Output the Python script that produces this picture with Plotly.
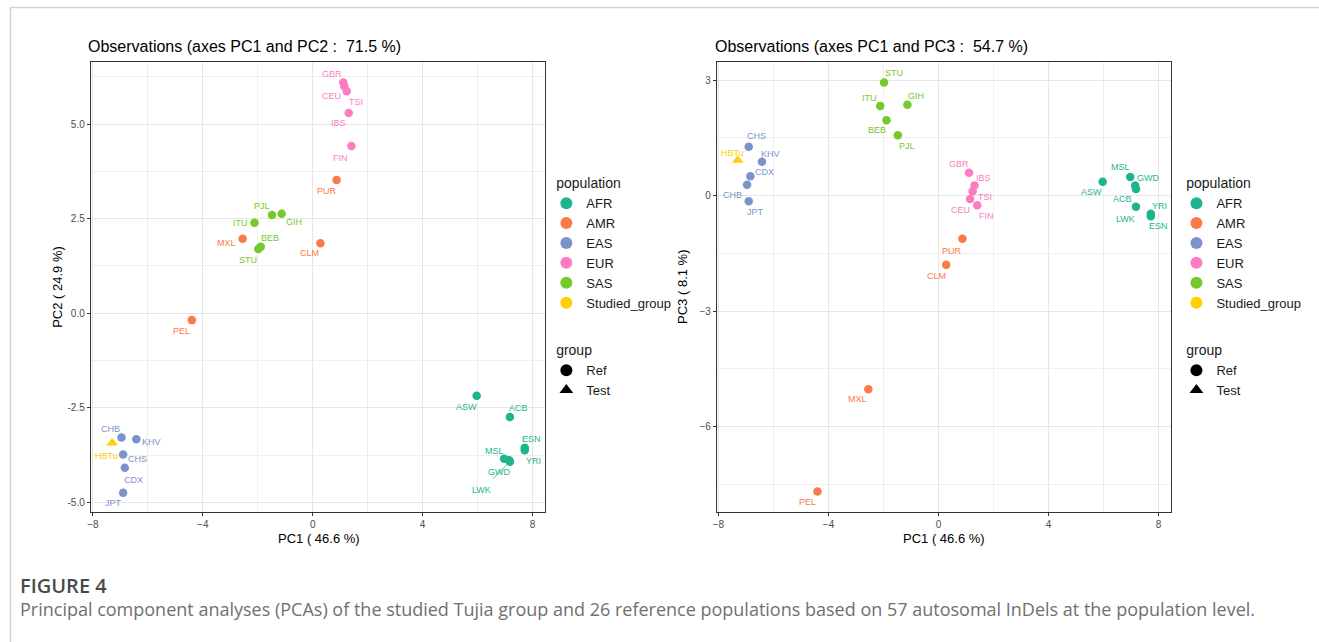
import plotly.graph_objects as go

W, H = 1319, 642

# ---------------- data ----------------
populations = ["ACB", "ASW", "ESN", "GWD", "LWK", "MSL", "YRI",
               "CLM", "MXL", "PEL", "PUR",
               "CDX", "CHB", "CHS", "JPT", "KHV",
               "CEU", "FIN", "GBR", "IBS", "TSI",
               "BEB", "GIH", "ITU", "PJL", "STU",
               "HBTu"]
superpop = ["AFR"] * 7 + ["AMR"] * 4 + ["EAS"] * 5 + ["EUR"] * 5 + ["SAS"] * 5 + ["Studied_group"]
group = ["Ref"] * 26 + ["Test"]
pc1 = [7.18, 5.97, 7.72, 7.15, 7.18, 6.97, 7.72,
       0.28, -2.55, -4.40, 0.87,
       -6.84, -6.96, -6.90, -6.90, -6.42,
       1.15, 1.41, 1.11, 1.31, 1.24,
       -1.89, -1.13, -2.12, -1.48, -1.98,
       -7.30]
pc2 = [-2.74, -2.18, -3.55, -3.88, -3.92, -3.84, -3.62,
       1.85, 1.97, -0.18, 3.52,
       -4.08, -3.28, -3.73, -4.74, -3.33,
       6.00, 4.42, 6.10, 5.29, 5.87,
       1.76, 2.63, 2.39, 2.60, 1.70,
       -3.43]
pc3 = [0.17, 0.36, -0.54, 0.26, -0.29, 0.48, -0.47,
       -1.80, -5.03, -7.69, -1.12,
       0.50, 0.28, 1.27, -0.15, 0.88,
       -0.09, -0.25, 0.59, 0.26, 0.11,
       1.96, 2.36, 2.33, 1.57, 2.94,
       0.92]
pop_levels = ["AFR", "AMR", "EAS", "EUR", "SAS", "Studied_group"]
group_levels = ["Ref", "Test"]

title_left = "Observations (axes PC1 and PC2 :\u00a0 71.5 %)"
title_right = "Observations (axes PC1 and PC3 :\u00a0 54.7 %)"
xlab = "PC1 ( 46.6 %)"
ylab_left = "PC2 ( 24.9 %)"
ylab_right = "PC3 ( 8.1 %)"
fig_label = "FIGURE 4"
caption = ("Principal component analyses (PCAs) of the studied Tujia group and 26 reference "
           "populations based on 57 autosomal InDels at the population level.")

# ---------------- styles ----------------
colors = {"AFR": "#1DB58E", "AMR": "#FC7A45", "EAS": "#7B93CA",
          "EUR": "#FC7CC2", "SAS": "#76C92A", "Studied_group": "#FFCF00"}
symbols = {"Ref": "circle", "Test": "triangle-up"}

# label offsets in pixels (dx right, dy down)
left_off = {"GBR": (-11, -8), "CEU": (-13, 10), "TSI": (9, 11), "IBS": (-10, 10), "FIN": (-11, 12),
            "PUR": (-10, 11), "PJL": (-10, -9), "GIH": (12, 8), "ITU": (-14, 0), "MXL": (-16, 4),
            "BEB": (9, -9), "STU": (-10, 11), "CLM": (-11, 10), "PEL": (-10, 11), "ASW": (-10, 11),
            "ACB": (9, -9), "ESN": (7, -9), "YRI": (9, 11), "MSL": (-10, -8), "GWD": (-10, 12),
            "LWK": (-28, 28), "CHB": (-11, -8), "KHV": (15, 3), "HBTu": (-6, 13), "CHS": (14, 5),
            "CDX": (9, 12), "JPT": (-10, 10)}
right_off = {"STU": (10, -9), "ITU": (-11, -8), "GIH": (9, -9), "BEB": (-10, 10), "PJL": (9, 11),
             "CHS": (8, -11), "HBTu": (-5, -7), "KHV": (9, -8), "CDX": (14, -4), "CHB": (-15, 10),
             "JPT": (7, 11), "GBR": (-10, -9), "IBS": (9, -8), "TSI": (12, 6), "CEU": (-10, 11),
             "FIN": (9, 11), "PUR": (-10, 12), "CLM": (-10, 11), "ASW": (-11, 10), "MSL": (-10, -10),
             "GWD": (13, -8), "ACB": (-13, 10), "LWK": (-10, 12), "YRI": (9, -8), "ESN": (8, 10),
             "MXL": (-11, 10), "PEL": (-10, 10)}
arrow_left = {"LWK"}

FONT = "Liberation Sans, Arial, sans-serif"

fig = go.Figure()


def px(x):
    return x / W


def py(y):
    return 1 - y / H


panels = [
    dict(xa="x", ya="y", yvals=pc2, off=left_off, arrows=arrow_left,
         leg_pop="legend", leg_grp="legend2"),
    dict(xa="x2", ya="y2", yvals=pc3, off=right_off, arrows=set(),
         leg_pop="legend3", leg_grp="legend4"),
]

for p in panels:
    for pop in pop_levels:
        for g in group_levels:
            idx = [i for i in range(len(populations)) if superpop[i] == pop and group[i] == g]
            if not idx:
                continue
            fig.add_trace(go.Scatter(
                x=[pc1[i] for i in idx], y=[p["yvals"][i] for i in idx],
                xaxis=p["xa"], yaxis=p["ya"], mode="markers",
                marker=dict(color=colors[pop], symbol=symbols[g],
                            size=8.5 if g == "Ref" else 10, line=dict(width=0)),
                showlegend=False, hoverinfo="text",
                text=[populations[i] for i in idx]))
    # legend entries
    for pop in pop_levels:
        fig.add_trace(go.Scatter(x=[None], y=[None], xaxis=p["xa"], yaxis=p["ya"], mode="markers",
                                 marker=dict(color=colors[pop], symbol="circle", size=8),
                                 name=pop, legend=p["leg_pop"], showlegend=True))
    for g in group_levels:
        fig.add_trace(go.Scatter(x=[None], y=[None], xaxis=p["xa"], yaxis=p["ya"], mode="markers",
                                 marker=dict(color="black", symbol=symbols[g], size=8 if g == "Ref" else 9),
                                 name=g, legend=p["leg_grp"], showlegend=True))
    # labels
    for i, name in enumerate(populations):
        dx, dy = p["off"][name]
        col = colors[superpop[i]]
        if name in p["arrows"]:
            fig.add_annotation(x=pc1[i], y=p["yvals"][i], xref=p["xa"], yref=p["ya"],
                               text=name, showarrow=True, ax=dx, ay=dy, arrowhead=0,
                               arrowwidth=0.8, arrowcolor=col, standoff=3, startstandoff=6,
                               font=dict(family=FONT, size=9, color=col))
        else:
            fig.add_annotation(x=pc1[i], y=p["yvals"][i], xref=p["xa"], yref=p["ya"],
                               text=name, showarrow=False, xshift=dx, yshift=-dy,
                               font=dict(family=FONT, size=9, color=col))

axis_common = dict(showline=True, mirror=True, linecolor="#333333", linewidth=1,
                   ticks="outside", ticklen=3, tickcolor="#333333", tickwidth=1,
                   showgrid=True, gridcolor="#E6E6E6", gridwidth=1, zeroline=False,
                   tickfont=dict(family=FONT, size=10, color="#4D4D4D"))

top, bot = 62, 512
fig.update_layout(
    width=W, height=H, margin=dict(l=0, r=0, t=0, b=0),
    paper_bgcolor="white", plot_bgcolor="white",
    xaxis=dict(domain=[px(87), px(543)], range=[-8.08, 8.47], tickvals=[-8, -4, 0, 4, 8],
               minor=dict(tickvals=[-6, -2, 2, 6], showgrid=True, gridcolor="#EFEFEF", gridwidth=0.8, ticks=""),
               **axis_common),
    yaxis=dict(domain=[py(bot), py(top)], range=[-5.25, 6.64], tickvals=[-5, -2.5, 0, 2.5, 5],
               ticktext=["-5.0", "-2.5", "0.0", "2.5", "5.0"],
               minor=dict(tickvals=[-3.75, -1.25, 1.25, 3.75, 6.25], showgrid=True, gridcolor="#EFEFEF",
                          gridwidth=0.8, ticks=""),
               **axis_common),
    xaxis2=dict(domain=[px(715), px(1171)], range=[-8.06, 8.47], tickvals=[-8, -4, 0, 4, 8],
                minor=dict(tickvals=[-6, -2, 2, 6], showgrid=True, gridcolor="#EFEFEF", gridwidth=0.8, ticks=""),
                anchor="y2", **axis_common),
    yaxis2=dict(domain=[py(bot), py(top)], range=[-8.22, 3.47], tickvals=[-6, -3, 0, 3],
                minor=dict(tickvals=[-7.5, -4.5, -1.5, 1.5], showgrid=True, gridcolor="#EFEFEF",
                           gridwidth=0.8, ticks=""),
                anchor="x2", **axis_common),
    showlegend=True,
)

leg_common = dict(xanchor="left", yanchor="top", bgcolor="rgba(0,0,0,0)",
                  font=dict(family=FONT, size=13, color="#1A1A1A"), itemsizing="constant",
                  tracegroupgap=0, itemclick=False, itemdoubleclick=False)
title_font = dict(family=FONT, size=14, color="#1A1A1A")
pad = "\u00a0\u00a0"
fig.update_layout(
    legend=dict(x=px(544), y=py(170), title=dict(text=pad + "population", font=title_font), **leg_common),
    legend2=dict(x=px(544), y=py(337), title=dict(text=pad + "group", font=title_font), **leg_common),
    legend3=dict(x=px(1176), y=py(170), title=dict(text=pad + "population", font=title_font), **leg_common),
    legend4=dict(x=px(1176), y=py(337), title=dict(text=pad + "group", font=title_font), **leg_common),
)

# titles and axis titles
for xpos, t in [(82, title_left), (711, title_right)]:
    fig.add_annotation(x=px(xpos), y=py(47), xref="paper", yref="paper", text=t, showarrow=False,
                       xanchor="left", yanchor="middle", font=dict(family=FONT, size=16, color="#000000"))
for xpos in [(88 + 543) / 2, (715 + 1171) / 2]:
    fig.add_annotation(x=px(xpos), y=py(538), xref="paper", yref="paper", text=xlab, showarrow=False,
                       xanchor="center", yanchor="middle", font=dict(family=FONT, size=13, color="#000000"))
for xpos, t in [(53, ylab_left), (680, ylab_right)]:
    fig.add_annotation(x=px(xpos), y=py((top + bot) / 2), xref="paper", yref="paper", text=t,
                       showarrow=False, textangle=-90, xanchor="center", yanchor="middle",
                       font=dict(family=FONT, size=13, color="#000000"))

# caption
fig.add_annotation(x=px(14), y=py(585), xref="paper", yref="paper", text=fig_label, showarrow=False,
                   xanchor="left", yanchor="middle",
                   font=dict(family="Open Sans, sans-serif", size=20, color="#4A4A4A", weight=600))
fig.add_annotation(x=px(14), y=py(609), xref="paper", yref="paper", text=caption, showarrow=False,
                   xanchor="left", yanchor="middle",
                   font=dict(family="Open Sans, sans-serif", size=18, color="#707070"))

# page frame lines
fig.add_shape(type="line", xref="paper", yref="paper", x0=px(6), x1=1, y0=py(7.5), y1=py(7.5),
              line=dict(color="#D4D4D4", width=1.5))
fig.add_shape(type="line", xref="paper", yref="paper", x0=px(6.5), x1=px(6.5), y0=py(7.5), y1=0,
              line=dict(color="#D4D4D4", width=1.5))

fig.write_html("out.html", config={"displayModeBar": False},
               post_script="document.body.style.margin='0';document.body.style.overflow='hidden';")
